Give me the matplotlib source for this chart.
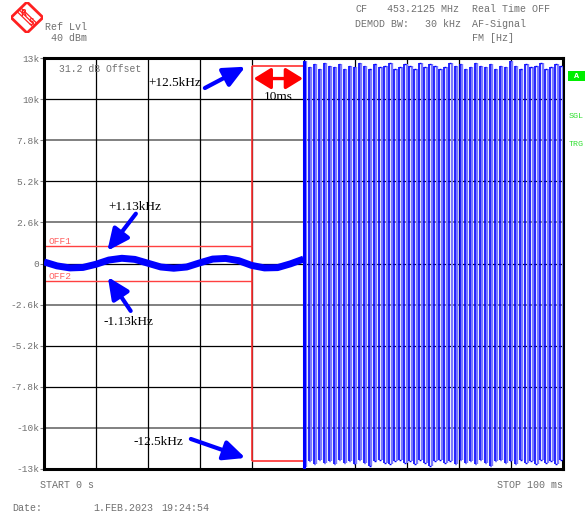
import matplotlib.pyplot as plt
from matplotlib.patches import Polygon, Rectangle

plt.rcParams['font.family'] = ['Liberation Mono', 'DejaVu Sans Mono']

W, H = 585, 516

# y grid: FM deviation in Hz, 10 divisions of 2.6 kHz
y_ticks = [13000, 10400, 7800, 5200, 2600, 0, -2600, -5200, -7800, -10400, -13000]
y_tick_labels = ['13k', '10k', '7.8k', '5.2k', '2.6k', '0', '-2.6k', '-5.2k', '-7.8k', '-10k', '-13k']
gray_rows = [7800, 2600, -2600, -10400]
x_grid = [10, 20, 30, 40, 50, 60, 70, 80, 90]

# first half: unmodulated carrier, residual wobble (ms, Hz)
wobble_t = [0, 2.5, 5, 7.5, 10, 12.5, 15, 17.5, 20, 22.5, 25, 27.5, 30, 32.5, 35, 37.5, 40, 42.5, 45, 47.5, 50]
wobble_hz = [100, -150, -280, -250, -50, 220, 330, 260, 20, -220, -300, -220, 40, 280, 320, 180, -120, -280, -260, -20, 280]

# second half: tone modulation, edges every half period
tone_start = 50.0
tone_period = 0.97
tone_hi = [12800, 12400, 12600, 12300, 12700, 12500, 12400, 12600, 12300, 12500,
           12400, 12700, 12500, 12300, 12600, 12400, 12500, 12700, 12300, 12400,
           12600, 12500, 12300, 12700, 12400, 12600, 12500, 12300, 12400, 12700,
           12500, 12600, 12300, 12400, 12700, 12500, 12400, 12600, 12300, 12500,
           12400, 12800, 12500, 12300, 12600, 12400, 12500, 12700, 12300, 12400,
           12600, 12500]
tone_lo = [-12900, -12500, -12700, -12400, -12600, -12500, -12700, -12400, -12600, -12500,
           -12700, -12400, -12600, -12800, -12500, -12400, -12600, -12700, -12500, -12400,
           -12600, -12500, -12700, -12400, -12600, -12800, -12500, -12400, -12600, -12500,
           -12700, -12400, -12600, -12500, -12700, -12400, -12600, -12800, -12500, -12400,
           -12600, -12500, -12700, -12400, -12600, -12500, -12700, -12400, -12600, -12500,
           -12700, -12400]

# display line / offsets
off_hz = 1130
peak_hz = 12500
marker_ms = 40


def px(x, y):
    return x / W, 1 - y / H


fig = plt.figure(figsize=(W / 100, H / 100), dpi=100)
ax = fig.add_axes([44 / W, 1 - 469 / H, (563 - 44) / W, (469 - 58) / H])
ax.set_xlim(0, 100)
ax.set_ylim(-13000, 13000)

# grid
for y in y_ticks[1:-1]:
    if y in gray_rows:
        ax.axhline(y, color='#808080', lw=1.4, zorder=1)
    else:
        ax.axhline(y, color='black', lw=0.9, zorder=1)
for x in x_grid:
    ax.axvline(x, color='black', lw=0.9, zorder=1)

ax.set_yticks(y_ticks)
ax.set_yticklabels(y_tick_labels)
ax.set_xticks([])
ax.tick_params(axis='y', length=3, width=0.8, color='#808080', labelcolor='#707070',
               labelsize=6.8, pad=0.5)
for s in ax.spines.values():
    s.set_linewidth(2.2)

# red display lines
ax.hlines([off_hz, -off_hz], 0, marker_ms, color='#ff4040', lw=1.0, zorder=2)
ax.vlines(marker_ms, -peak_hz, peak_hz, color='#ff3030', lw=1.2, zorder=2)
ax.hlines([peak_hz, -peak_hz], marker_ms, tone_start, color='#ff3030', lw=1.2, zorder=2)
ax.text(0.8, off_hz, 'OFF1', color='#ff6060', fontsize=6.8, va='bottom', ha='left')
ax.text(0.8, -off_hz, 'OFF2', color='#ff6060', fontsize=6.8, va='bottom', ha='left')

# trace, first half
ax.plot(wobble_t, wobble_hz, color='#0000ff', lw=5.0, solid_capstyle='butt', zorder=4)

# trace, second half
n = len(tone_hi)
t_rise = [tone_start + i * tone_period for i in range(n)]
t_fall = [t + tone_period / 2 for t in t_rise]
ax.vlines(t_fall, tone_lo, tone_hi, color='#7a7aff', lw=1.7, zorder=3)
ax.vlines(t_rise, tone_lo, tone_hi, color='#0000ff', lw=1.2, zorder=4)
ax.hlines(tone_hi, t_rise, [t + 0.3 for t in t_rise], color='#0000ff', lw=1.0, zorder=4)
ax.hlines(tone_lo, t_rise, [t + 0.3 for t in t_rise], color='#0000ff', lw=1.0, zorder=4)
ax.vlines(tone_start, -13000, tone_hi[0], color='#0000ff', lw=2.2, zorder=5)

ax.text(2.9, 12300, '31.2 dB Offset', color='#707070', fontsize=7.0, va='center')

# annotations
blue_arrow = dict(arrowstyle='-|>,head_length=0.65,head_width=0.3', lw=3.0,
                  color='#0000ff', mutation_scale=20, shrinkA=0, shrinkB=0)
serif = dict(family='Liberation Serif', fontsize=9.5, color='black', ha='center', va='center')

ax.text(25.2, 11450, '+12.5kHz', **serif)
ax.annotate('', xy=(38.8, 12450), xytext=(31.0, 11100), arrowprops=blue_arrow, zorder=6)

ax.text(17.5, 3600, '+1.13kHz', **serif)
ax.annotate('', xy=(12.2, 800), xytext=(17.7, 3150), arrowprops=blue_arrow, zorder=6)

ax.text(16.2, -3700, '-1.13kHz', **serif)
ax.annotate('', xy=(12.3, -850), xytext=(16.7, -3000), arrowprops=blue_arrow, zorder=6)

ax.text(22.0, -11300, '-12.5kHz', **serif)
ax.annotate('', xy=(38.8, -12300), xytext=(28.3, -11100), arrowprops=blue_arrow, zorder=6)

ax.annotate('', xy=(49.9, 11700), xytext=(40.4, 11700), zorder=6,
            arrowprops=dict(arrowstyle='<|-|>,head_length=0.52,head_width=0.32', lw=2.4,
                            color='#ff0000', mutation_scale=20, shrinkA=0, shrinkB=0))
ax.text(45.2, 10550, '10ms', **serif)

# header / footer texts
grey = '#707070'
fs = 7.2
fig.text(*px(45, 27), 'Ref Lvl', color=grey, fontsize=fs, va='center')
fig.text(*px(51, 38), '40 dBm', color=grey, fontsize=fs, va='center')
fig.text(*px(355, 9), 'CF', color=grey, fontsize=fs, va='center')
fig.text(*px(387, 9), '453.2125 MHz', color=grey, fontsize=fs, va='center')
fig.text(*px(472, 9), 'Real Time OFF', color=grey, fontsize=fs, va='center')
fig.text(*px(355, 24), 'DEMOD BW:', color=grey, fontsize=fs, va='center')
fig.text(*px(425, 24), '30 kHz', color=grey, fontsize=fs, va='center')
fig.text(*px(472, 24), 'AF-Signal', color=grey, fontsize=fs, va='center')
fig.text(*px(472, 38), 'FM [Hz]', color=grey, fontsize=fs, va='center')
fig.text(*px(40, 485), 'START 0 s', color=grey, fontsize=fs, va='center')
fig.text(*px(563, 485), 'STOP 100 ms', color=grey, fontsize=fs, va='center', ha='right')
fig.text(*px(12, 508), 'Date:', color=grey, fontsize=fs, va='center')
fig.text(*px(93, 508), '1.FEB.2023', color=grey, fontsize=fs, va='center')
fig.text(*px(161, 508), '19:24:54', color=grey, fontsize=fs, va='center')

# right-hand status markers
x0, y0 = px(568, 81)
fig.patches.append(Rectangle((x0, y0), 17 / W, 10 / H, transform=fig.transFigure,
                             facecolor='#00ee00', edgecolor='none'))
fig.text(*px(576, 76), 'A', color='white', fontsize=6, fontweight='bold', va='center', ha='center')
fig.text(*px(569, 117), 'SGL', color='#30e030', fontsize=6, va='center')
fig.text(*px(569, 144), 'TRG', color='#30e030', fontsize=6, va='center')

# R&S logo
lg = fig.add_axes([11 / W, 1 - 33 / H, 32 / W, 31 / H])
lg.set_xlim(-1, 1)
lg.set_ylim(-1, 1)
lg.axis('off')
lg.add_patch(Polygon([(0, 1), (1, 0), (0, -1), (-1, 0)], closed=True,
                     facecolor='white', edgecolor='#ff2020', lw=2.0))
for k in [-0.12, 0, 0.12]:
    lg.plot([-0.5 + k, 0.5 + k], [0.5 + k, -0.5 + k], color='#ff2020', lw=0.9)
lg.text(-0.25, 0.28, 'R', color='#ff2020', fontsize=5.5, fontweight='bold', ha='center', va='center',
        family='DejaVu Sans')
lg.text(0.25, -0.3, 'S', color='#ff2020', fontsize=5.5, fontweight='bold', ha='center', va='center',
        family='DejaVu Sans')

fig.savefig('out.png', dpi=100)
